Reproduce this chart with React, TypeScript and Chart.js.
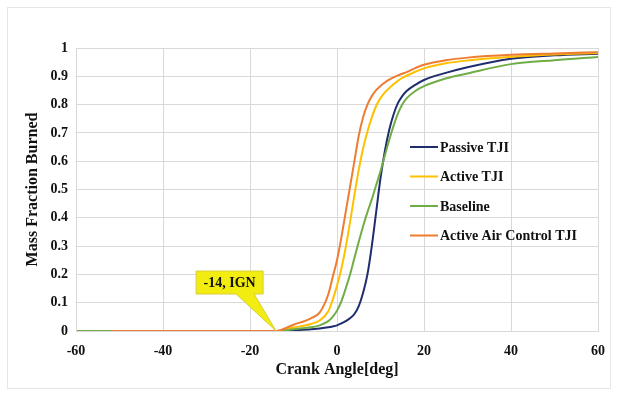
import React, { useEffect, useRef } from "react";
import { Chart, registerables } from "chart.js";

Chart.register(...registerables);

// Crank angle samples [deg] shared by every series
const crankAngle = [-60, -52, -14, -10, -6, -4, -2, -1, 0, 1, 2, 3, 4, 5, 6, 7, 8, 9, 10, 11, 12, 13, 14, 15, 16, 18, 20, 25, 30, 40, 50, 60];

// Mass fraction burned for each strategy
const passiveTJI = [0, 0, 0, 0.003, 0.006, 0.009, 0.013, 0.016, 0.02, 0.027, 0.035, 0.045, 0.06, 0.088, 0.135, 0.2, 0.3, 0.42, 0.54, 0.635, 0.71, 0.765, 0.805, 0.83, 0.848, 0.87, 0.887, 0.912, 0.932, 0.962, 0.974, 0.98];
const activeTJI = [0, 0, 0, 0.012, 0.025, 0.037, 0.07, 0.11, 0.16, 0.22, 0.295, 0.385, 0.48, 0.57, 0.645, 0.705, 0.755, 0.795, 0.823, 0.843, 0.858, 0.872, 0.884, 0.894, 0.902, 0.916, 0.928, 0.946, 0.956, 0.969, 0.977, 0.982];
const baseline = [0, 0, 0, 0.006, 0.013, 0.02, 0.035, 0.05, 0.072, 0.105, 0.15, 0.2, 0.258, 0.315, 0.37, 0.42, 0.465, 0.515, 0.565, 0.62, 0.675, 0.725, 0.768, 0.8, 0.822, 0.848, 0.865, 0.892, 0.91, 0.943, 0.957, 0.968];
const activeAirControlTJI = [null, 0, 0, 0.022, 0.045, 0.065, 0.13, 0.19, 0.25, 0.33, 0.42, 0.51, 0.6, 0.69, 0.755, 0.8, 0.83, 0.851, 0.866, 0.878, 0.888, 0.896, 0.903, 0.909, 0.915, 0.929, 0.941, 0.957, 0.966, 0.976, 0.981, 0.985];

const seriesNames = ["Passive TJI", "Active TJI", "Baseline", "Active Air Control TJI"];
const seriesColors = ["#1f2d6e", "#ffc000", "#70ad47", "#ed7d31"];

const xTicks = [-60, -40, -20, 0, 20, 40, 60];
const yTicks = [0, 0.1, 0.2, 0.3, 0.4, 0.5, 0.6, 0.7, 0.8, 0.9, 1];

// Ignition annotation
const ignitionAngle = -14;
const ignitionLabel = "-14, IGN";

const SERIF = '"Liberation Serif", "Times New Roman", serif';

const legendPlugin = {
  id: "inlineLegend",
  afterDraw(chart: any) {
    const { ctx, chartArea } = chart;
    const x0 = chartArea.left + 334;
    const y0 = chartArea.top + 99;
    ctx.save();
    ctx.font = `bold 14px ${SERIF}`;
    ctx.textBaseline = "middle";
    ctx.textAlign = "left";
    chart.data.datasets.forEach((ds: any, i: number) => {
      const y = y0 + i * 29.5;
      ctx.strokeStyle = ds.borderColor;
      ctx.lineWidth = 2;
      ctx.beginPath();
      ctx.moveTo(x0, y);
      ctx.lineTo(x0 + 28, y);
      ctx.stroke();
      ctx.fillStyle = "#111";
      ctx.fillText(ds.label, x0 + 30, y + 1);
    });
    ctx.restore();
  },
};

const calloutPlugin = {
  id: "ignCallout",
  afterDatasetsDraw(chart: any) {
    const { ctx } = chart;
    const tx = chart.scales.x.getPixelForValue(ignitionAngle);
    const ty = chart.scales.y.getPixelForValue(0);
    const left = tx - 80, right = tx - 13, top = ty - 60, bottom = ty - 37;
    ctx.save();
    ctx.fillStyle = "#f3ec10";
    ctx.strokeStyle = "#d6cf3a";
    ctx.lineWidth = 1;
    ctx.beginPath();
    ctx.moveTo(left, top);
    ctx.lineTo(right, top);
    ctx.lineTo(right, bottom);
    ctx.lineTo(tx - 22, bottom);
    ctx.lineTo(tx, ty);
    ctx.lineTo(tx - 40, bottom);
    ctx.lineTo(left, bottom);
    ctx.closePath();
    ctx.fill();
    ctx.stroke();
    ctx.fillStyle = "#111";
    ctx.font = `bold 14px ${SERIF}`;
    ctx.textAlign = "center";
    ctx.textBaseline = "middle";
    ctx.fillText(ignitionLabel, (left + right) / 2, (top + bottom) / 2 + 1);
    ctx.restore();
  },
};

const framePlugin = {
  id: "frame",
  beforeDraw(chart: any) {
    const { ctx, width, height } = chart;
    ctx.save();
    ctx.fillStyle = "#ffffff";
    ctx.fillRect(0, 0, width, height);
    ctx.strokeStyle = "#e6e6e6";
    ctx.lineWidth = 1;
    ctx.strokeRect(7.5, 7.5, width - 15, height - 15);
    ctx.restore();
  },
  afterDatasetsDraw(chart: any) {
    const { ctx, chartArea } = chart;
    ctx.save();
    ctx.strokeStyle = "#d9d9d9";
    ctx.lineWidth = 1;
    ctx.strokeRect(Math.round(chartArea.left) + 0.5, Math.round(chartArea.top) + 0.5, Math.round(chartArea.right - chartArea.left), Math.round(chartArea.bottom - chartArea.top));
    ctx.restore();
  },
};

export default function App() {
  const canvasRef = useRef<HTMLCanvasElement>(null);

  useEffect(() => {
    if (!canvasRef.current) return;
    const values = [passiveTJI, activeTJI, baseline, activeAirControlTJI];
    const drawOrder = [3, 2, 1, 0];
    const chart = new Chart(canvasRef.current, {
      type: "line",
      data: {
        datasets: values.map((vals, i) => ({
          label: seriesNames[i],
          data: crankAngle.map((a, j) => ({ x: a, y: vals[j] })),
          borderColor: seriesColors[i],
          backgroundColor: seriesColors[i],
          borderWidth: 2,
          pointRadius: 0,
          cubicInterpolationMode: "monotone" as const,
          spanGaps: false,
          order: drawOrder[i],
        })),
      },
      options: {
        responsive: false,
        animation: false,
        layout: { padding: { left: 0, top: 48, right: 20, bottom: 0 } },
        plugins: { legend: { display: false }, tooltip: { enabled: false } },
        scales: {
          x: {
            type: "linear",
            min: -60,
            max: 60,
            afterBuildTicks: (s: any) => { s.ticks = xTicks.map((v) => ({ value: v })); },
            afterFit: (s: any) => { s.height = 65; },
            grid: { color: "#d9d9d9", drawTicks: false },
            border: { display: false },
            ticks: { color: "#111", padding: 12, font: { family: SERIF, size: 14, weight: "bold" } },
            title: { display: true, text: "Crank Angle[deg]", color: "#111", padding: { bottom: 17 }, font: { family: SERIF, size: 16, weight: "bold" } },
          },
          y: {
            min: 0,
            max: 1,
            afterBuildTicks: (s: any) => { s.ticks = yTicks.map((v) => ({ value: v })); },
            afterFit: (s: any) => { s.width = 76; },
            grid: { color: "#d9d9d9", drawTicks: false },
            border: { display: false },
            ticks: { color: "#111", padding: 8, font: { family: SERIF, size: 14, weight: "bold" }, callback: (v: any) => String(Math.round(Number(v) * 10) / 10) },
            title: { display: true, text: "Mass Fraction Burned", color: "#111", padding: { top: 23 }, font: { family: SERIF, size: 16, weight: "bold" } },
          },
        },
      },
      plugins: [framePlugin, calloutPlugin, legendPlugin],
    });
    return () => chart.destroy();
  }, []);

  return (
    <div style={{ position: "absolute", left: 0, top: 0, width: 618, height: 396, background: "#fff" }}>
      <canvas ref={canvasRef} width={618} height={396} />
    </div>
  );
}
